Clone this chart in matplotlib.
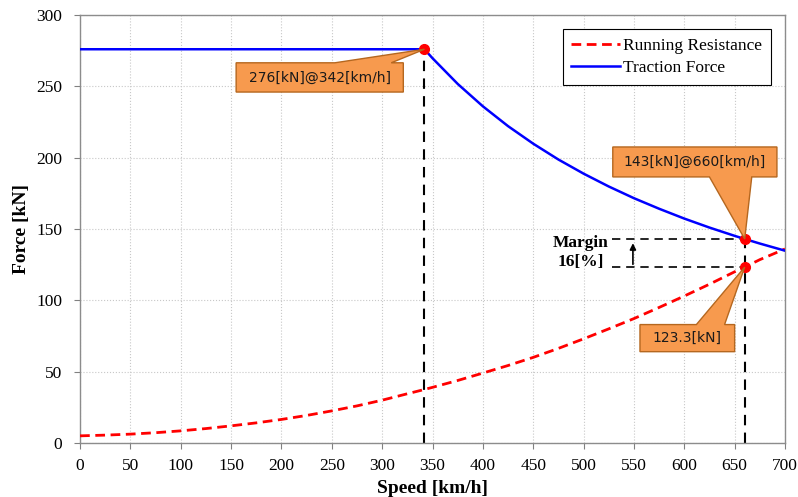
import matplotlib.pyplot as plt
from matplotlib.patches import Polygon

# speeds [km/h] and forces [kN]
speed = [0, 25, 50, 75, 100, 125, 150, 175, 200, 225, 250, 275, 300, 325, 342,
         350, 375, 400, 425, 450, 475, 500, 525, 550, 575, 600, 625, 650, 660, 675, 700]
resistance = [5.0, 5.5, 6.2, 7.2, 8.5, 10.1, 12.0, 14.1, 16.5, 19.3, 22.5, 26.0, 30.0, 34.5, 37.5,
              39.0, 43.8, 49.0, 54.3, 60.0, 66.3, 73.0, 80.0, 87.2, 95.0, 103.0, 111.3, 120.0, 123.3, 128.5, 136.0]
traction = [276, 276, 276, 276, 276, 276, 276, 276, 276, 276, 276, 276, 276, 276, 276,
            269.7, 251.7, 236.0, 222.1, 209.8, 198.7, 188.8, 179.8, 171.6, 164.2, 157.3, 151.0, 145.2, 143.0, 139.8, 134.8]

base_point = (342, 276)
max_point = (660, 143)
res_point = (660, 123.3)

fig = plt.figure(figsize=(7.98, 4.97), dpi=100)
ax = fig.add_axes([0.1003, 0.1087, 0.8834, 0.8611])

ax.plot(speed, resistance, color='#ff0000', ls='--', lw=2, dashes=(3.5, 2), label='Running Resistance', zorder=3)
ax.plot(speed, traction, color='#0000ff', lw=1.8, label='Traction Force', zorder=3)

# vertical guide lines
for x, y in [base_point, max_point]:
    ax.plot([x, x], [0, y], color='black', ls='--', lw=1.5, dashes=(5, 3.5), zorder=2)

# margin lines
ax.plot([528, 660], [max_point[1]] * 2, color='black', ls='--', lw=1.2, dashes=(5, 3.5), zorder=2)
ax.plot([528, 660], [res_point[1]] * 2, color='black', ls='--', lw=1.2, dashes=(5, 3.5), zorder=2)
ax.annotate('', xy=(549, max_point[1] - 1), xytext=(549, res_point[1]),
            arrowprops=dict(arrowstyle='-|>', color='black', lw=1.2, mutation_scale=9))
ax.text(497, 133.5, 'Margin\n16[%]', family='Liberation Serif', fontweight='bold', fontsize=12.5,
        ha='center', va='center', linespacing=1.2)

for x, y in [base_point, max_point, res_point]:
    ax.plot(x, y, 'o', color='#ff0000', ms=7, zorder=5)

# callouts
fill = '#f79a4e'
edge = '#b5671f'


def callout(x0, x1, y0, y1, base, tip, text):
    if base[2] == 'top':
        pts = [(x0, y0), (x1, y0), (x1, y1), (base[1], y1), tip, (base[0], y1), (x0, y1)]
    else:
        pts = [(x0, y0), (base[0], y0), tip, (base[1], y0), (x1, y0), (x1, y1), (x0, y1)]
    ax.add_patch(Polygon(pts, closed=True, facecolor=fill, edgecolor=edge, lw=1, zorder=6))
    ax.text((x0 + x1) / 2, (y0 + y1) / 2, text, ha='center', va='center', fontsize=10,
            family='DejaVu Sans', color='#1a1a1a', zorder=7)


callout(155, 321, 246, 266.5, (253, 309, 'top'), base_point, '276[kN]@342[km/h]')
callout(529, 692, 186.5, 207.5, (625, 667, 'bottom'), max_point, '143[kN]@660[km/h]')
callout(556, 650, 64, 83, (612, 640, 'top'), res_point, '123.3[kN]')

ax.set_xlim(0, 700)
ax.set_ylim(0, 300)
ax.set_xticks(range(0, 701, 50))
ax.set_yticks(range(0, 301, 50))
ax.grid(True, color='#c8c8c8', ls=':', lw=0.8)
ax.set_axisbelow(True)
for s in ax.spines.values():
    s.set_color('#8c8c8c')
    s.set_linewidth(1)
ax.tick_params(length=4, color='#808080', labelsize=12.5)
ax.tick_params(axis='x', pad=7)
ax.tick_params(axis='y', pad=9)
for lab in ax.get_xticklabels() + ax.get_yticklabels():
    lab.set_family('Liberation Serif')

ax.set_xlabel('Speed [km/h]', family='Liberation Serif', fontweight='bold', fontsize=14, labelpad=4)
ax.set_ylabel('Force [kN]', family='Liberation Serif', fontweight='bold', fontsize=14, labelpad=4)

leg = ax.legend(loc='upper right', prop={'family': 'Liberation Serif', 'size': 12.5}, fancybox=False,
                edgecolor='black', framealpha=1, handlelength=2.8, handletextpad=0.2,
                borderaxespad=0.8, borderpad=0.5, labelspacing=0.35)
leg.get_frame().set_linewidth(0.8)

fig.savefig('out.png', dpi=100)
